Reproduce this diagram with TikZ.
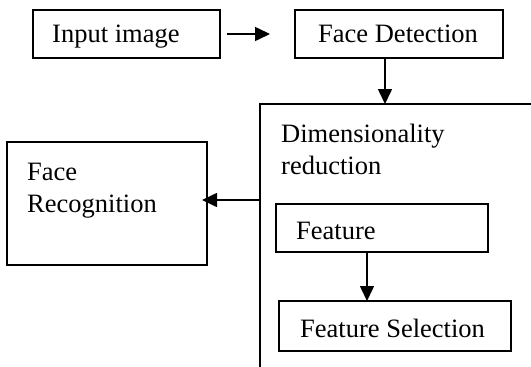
\documentclass[tikz,border=0pt]{standalone}
\usepackage{fontspec}
\setmainfont{Liberation Serif}
\usetikzlibrary{arrows.meta}
\begin{document}
\begin{tikzpicture}[x=1pt,y=-1pt,
  box/.style={draw=black,line width=1.6pt,rectangle,inner sep=0pt,outer sep=0pt},
  txt/.style={anchor=base west,inner sep=0pt,font=\fontsize{26.5}{30}\selectfont},
  arr/.style={line width=1.6pt,-{Triangle[length=15pt,width=14pt]}}]
\useasboundingbox (0,0) rectangle (531,367);
\clip (0,0) rectangle (531,367);
% boxes
\node[box,minimum width=187pt,minimum height=48pt] (in) at (126.5,34) {};
\node[box,minimum width=208pt,minimum height=48pt] (fd) at (399,34) {};
\node[box,minimum width=300pt,minimum height=300pt] (dim) at (410,254) {};
\node[box,minimum width=200pt,minimum height=123pt] (fr) at (107,203.5) {};
\node[box,minimum width=212pt,minimum height=48pt] (feat) at (382,228) {};
\node[box,minimum width=232pt,minimum height=50pt] (fs) at (395,326) {};
% texts
\node[txt] (inT) at (52,42.5) {Input image};
\node[txt] (fdT) at (318,42.5) {Face Detection};
\node[txt] (dimT1) at (281,142.5) {Dimensionality};
\node[txt] (dimT2) at (281,174.5) {reduction};
\node[txt] (frT1) at (27,180.5) {Face};
\node[txt] (frT2) at (27,212.5) {Recognition};
\node[txt] (featT) at (296,239.5) {Feature};
\node[txt] (fsT) at (300,337.5) {Feature Selection};
% connector anchors
\coordinate (a1) at (227,34);
\coordinate (a2) at (270,34);
\coordinate (x1) at (385,0);
\coordinate (x2) at (367,0);
\coordinate (y1) at (0,200);
% connectors
\draw[arr] (a1) -- (a2);
\draw[arr] (fd.south -| x1) -- (dim.north -| x1);
\draw[arr,shorten >=-5pt] (dim.west |- y1) -- (fr.east |- y1);
\draw[arr] (feat.south -| x2) -- (fs.north -| x2);
\end{tikzpicture}
\end{document}
